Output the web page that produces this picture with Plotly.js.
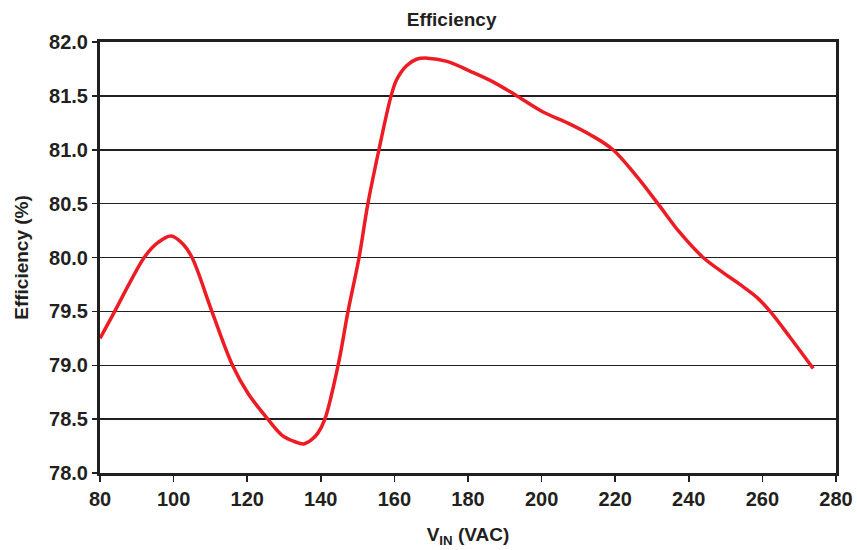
<!DOCTYPE html>
<html>
<head>
<meta charset="utf-8">
<script src="https://cdn.plot.ly/plotly-3.0.1.min.js"></script>
<style>html,body{margin:0;padding:0;background:#fff;}#chart{width:857px;height:550px;}</style>
</head>
<body>
<div id="chart"></div>
<script>
var vin = [80, 84, 88, 92.2, 95.8, 99.3, 102.4, 105, 110.4, 116, 120.2, 125.6, 129.5, 133, 135.3, 137.5, 139.2, 141.1, 144.7, 147.4, 150.4, 152.8, 155.8, 159.1, 160.6, 163.3, 166, 169, 174.3, 180.5, 186.8, 192.8, 200.4, 207, 213.2, 219.4, 225.9, 231.6, 237.6, 243.9, 249.3, 253.9, 258.5, 262.1, 267.5, 273.8];
var efficiency = [79.25, 79.5, 79.76, 80.01, 80.14, 80.2, 80.13, 80.0, 79.5, 79.0, 78.74, 78.5, 78.35, 78.29, 78.27, 78.31, 78.37, 78.5, 79.0, 79.5, 80.0, 80.5, 81.0, 81.5, 81.65, 81.78, 81.84, 81.85, 81.82, 81.73, 81.63, 81.51, 81.35, 81.25, 81.14, 81.0, 80.75, 80.5, 80.23, 80.0, 79.86, 79.75, 79.63, 79.5, 79.26, 78.97];
var xTicks = [80, 100, 120, 140, 160, 180, 200, 220, 240, 260, 280];
var yTicks = [78.0, 78.5, 79.0, 79.5, 80.0, 80.5, 81.0, 81.5, 82.0];

var ink = '#231f20';
var fontFam = '"Liberation Sans", Arial, Helvetica, sans-serif';

var trace = {
  x: vin, y: efficiency, type: 'scatter', mode: 'lines',
  line: {color: '#ed1c24', width: 3.5, shape: 'spline', smoothing: 1},
  hoverinfo: 'x+y'
};

var layout = {
  width: 857, height: 550,
  margin: {l: 100, r: 21, t: 42, b: 77},
  paper_bgcolor: '#ffffff', plot_bgcolor: '#ffffff',
  showlegend: false,
  font: {family: fontFam, color: ink},
  title: {text: '<b>Efficiency</b>', font: {family: fontFam, size: 19, color: ink}, x: 0.527, xanchor: 'center', y: 0.965, yanchor: 'middle'},
  xaxis: {
    range: [80, 280], tickvals: xTicks, ticktext: xTicks.map(String),
    showgrid: false, zeroline: false,
    showline: true, linewidth: 3, linecolor: ink, mirror: true,
    ticks: 'outside', ticklen: 6, tickwidth: 1.5, tickcolor: ink,
    tickfont: {family: fontFam, size: 20, color: ink, weight: 'bold'},
    title: {text: '<b>V<sub>IN</sub> (VAC)</b>', font: {family: fontFam, size: 19, color: ink}, standoff: 19}
  },
  yaxis: {
    range: [78, 82], tickvals: yTicks, ticktext: yTicks.map(function(v){return v.toFixed(1);}),
    showgrid: true, gridcolor: ink, gridwidth: 1.5, zeroline: false,
    showline: true, linewidth: 3, linecolor: ink, mirror: true,
    ticks: 'outside', ticklen: 5, tickwidth: 1.5, tickcolor: ink,
    tickfont: {family: fontFam, size: 20, color: ink, weight: 'bold'},
    title: {text: '<b>Efficiency (%)</b>', font: {family: fontFam, size: 19, color: ink}, standoff: 16}
  }
};

Plotly.newPlot('chart', [trace], layout, {displayModeBar: false, staticPlot: true});
</script>
</body>
</html>
